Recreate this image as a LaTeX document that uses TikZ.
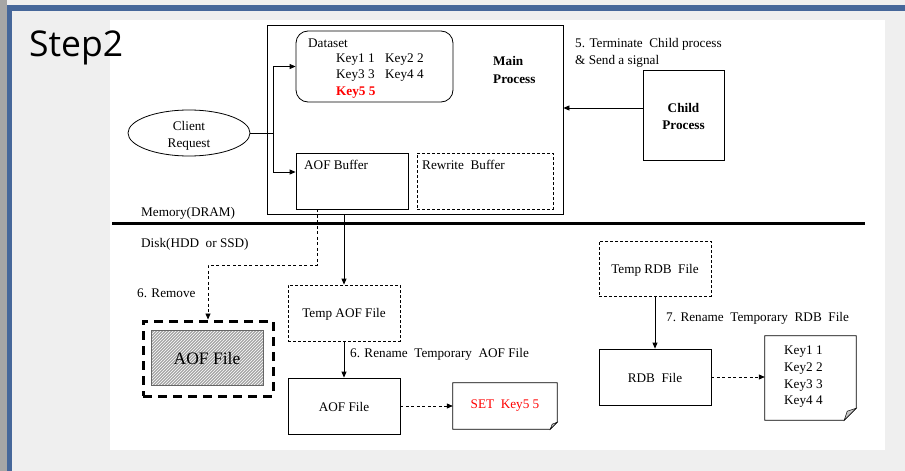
\documentclass[tikz,border=0pt]{standalone}
\usepackage{fontspec}
\setmainfont{Liberation Serif}
\newfontfamily\stepfont{Open Sans}
\usetikzlibrary{arrows.meta,patterns,shapes.geometric}
\definecolor{frameblue}{HTML}{46679A}
\definecolor{bgrey}{HTML}{EFEFEF}
\begin{document}
\begin{tikzpicture}[x=1pt,y=-1pt,
  font=\fontsize{13.2}{15}\selectfont,
  box/.style={draw=black,line width=0.8pt,inner sep=0pt},
  dbox/.style={draw=black,line width=0.8pt,inner sep=0pt,dash pattern=on 3pt off 2pt},
  arr/.style={line width=0.8pt,-{Triangle[length=6pt,width=5pt]}},
  darr/.style={line width=0.8pt,dash pattern=on 3pt off 2.5pt,-{Triangle[length=6pt,width=5pt]}},
  txt/.style={inner sep=0pt,anchor=base west},
  ctxt/.style={inner sep=0pt,anchor=base},
  fold/.style={fill=gray!45,draw=black,line width=0.5pt}]
\useasboundingbox (0,0) rectangle (905,471);
% background frame
\fill[bgrey] (0,0) rectangle (905,471);
\fill[gray!70] (0,0) rectangle (7,471);
\fill[white] (110,20) rectangle (885,450);
\fill[frameblue] (7,5) rectangle (905,11);
\fill[frameblue] (7,5) rectangle (12,471);
\node[txt] (steptitle) at (29,56) {\stepfont\fontsize{35.5}{40}\selectfont Step2};

% memory / disk separator
\draw[line width=3pt] (112,223) coordinate (sepL) -- (865,223) coordinate (sepR);
\node[txt] (memlbl) at (141,216) {Memory(DRAM)};
\node[txt] (disklbl) at (141,247) {Disk(HDD\ \ or SSD)};

% main process
\node[box,minimum width=296pt,minimum height=189pt] (main) at (415,119.5) {};
\node[box,rounded corners=12pt,minimum width=157pt,minimum height=71pt] (dataset) at (374.5,66.5) {};
\node[txt] (dstitle) at (308,47) {Dataset};
\node[txt] (k1) at (336,62) {Key1 1};
\node[txt] (k2) at (385,62) {Key2 2};
\node[txt] (k3) at (336,78) {Key3 3};
\node[txt] (k4) at (385,78) {Key4 4};
\node[txt,text=red] (k5) at (336,95) {\bfseries Key5\ 5};
\node[txt] (mainlbl1) at (493,65) {\bfseries Main};
\node[txt] (mainlbl2) at (493,83) {\bfseries Process};
\node[box,minimum width=112pt,minimum height=56pt] (aofbuf) at (352,181) {};
\node[txt] (aofbuftxt) at (304,169) {AOF Buffer};
\node[dbox,minimum width=136pt,minimum height=56pt] (rwbuf) at (485,181) {};
\node[txt] (rwbuftxt) at (422,169) {Rewrite\ \ Buffer};

% child process
\node[box,minimum width=81pt,minimum height=90pt] (child) at (683.5,115) {};
\node[ctxt] (childt1) at (683.5,112) {\bfseries Child};
\node[ctxt] (childt2) at (683.5,129) {\bfseries Process};
\node[txt] (term1) at (575,47) {5. Terminate\ \ Child process};
\node[txt] (term2) at (575,64) {\& Send a signal};
\draw[arr] ([yshift=7pt]child.west) -- ([yshift=7pt]child.west -| main.east);

% client request
\node[ellipse,draw=black,line width=0.8pt,minimum width=122pt,minimum height=46pt,inner sep=0pt] (client) at (189,133) {};
\node[ctxt] (clientt1) at (189,130) {Client};
\node[ctxt] (clientt2) at (189,147) {Request};
\coordinate (branch) at (273,133);
\draw[line width=0.8pt] (client.east) -- (branch);
\draw[arr] (branch) |- (dataset.west);
\draw[arr] (branch) |- ([yshift=9pt]aofbuf.west);

% AOF side
\node[dbox,minimum width=112pt,minimum height=56pt] (tempaof) at (344,313) {};
\node[ctxt] (tempaoft) at (344,317) {Temp AOF File};
\node[box,minimum width=112pt,minimum height=56pt] (aoffile) at (344,406) {};
\node[ctxt] (aoffilet) at (344,411) {AOF File};
\draw[arr] (main.south -| tempaof.north) -- (tempaof.north);
\draw[arr] (tempaof.south) -- (aoffile.north);
\node[txt] (renaof) at (350,357) {6. Rename\ \ Temporary\ \ AOF File};

% old AOF file (removed)
\node[draw=black,line width=3pt,dash pattern=on 9pt off 6pt,minimum width=130pt,minimum height=75pt,inner sep=0pt] (oldaof) at (208,358.5) {};
\node[draw=gray!80!black,line width=0.8pt,preaction={fill=gray!70},pattern=north east lines,pattern color=white,minimum width=112pt,minimum height=55pt,inner sep=0pt] (oldaofin) at (207,357.5) {};
\node[ctxt] (oldaoft) at (207,364) {\fontsize{17.5}{19}\selectfont AOF File};
\draw[darr] ([xshift=-35pt]aofbuf.south) -- ++(0,56) -| (oldaof.north);
\node[txt] (removelbl) at (137,297) {6. Remove};

% SET doc
\node[inner sep=0pt,minimum width=104pt,minimum height=46pt] (setdoc) at (505,406) {};
\draw[line width=0.8pt] (setdoc.north west) -- (setdoc.north east) -- ([yshift=7pt]setdoc.south east) -- ([xshift=-7pt]setdoc.south east) -- (setdoc.south west) -- cycle;
\draw[fold] ([yshift=7pt]setdoc.south east) -- ([xshift=-7pt]setdoc.south east) -- ([xshift=-5pt,yshift=5pt]setdoc.south east) -- cycle;
\node[ctxt,text=red] (setdoct) at (505,408) {SET\ \ Key5\ 5};
\draw[darr] (aoffile.east) -- (setdoc.west);

% RDB side
\node[dbox,minimum width=112pt,minimum height=55pt] (temprdb) at (655,268.5) {};
\node[ctxt] (temprdbt) at (655,273) {Temp RDB\ \ File};
\node[box,minimum width=112pt,minimum height=56pt] (rdbfile) at (655,377) {};
\node[ctxt] (rdbfilet) at (655,382) {RDB\ \ File};
\draw[arr] (temprdb.south) -- (rdbfile.north);
\node[txt] (renrdb) at (666,321) {7. Rename\ \ Temporary\ \ RDB\ \ File};
\node[inner sep=0pt,minimum width=91pt,minimum height=84pt] (keydoc) at (810.5,378) {};
\draw[line width=0.8pt] (keydoc.north west) -- (keydoc.north east) -- ([yshift=12pt]keydoc.south east) -- ([xshift=-12pt]keydoc.south east) -- (keydoc.south west) -- cycle;
\draw[fold] ([yshift=12pt]keydoc.south east) -- ([xshift=-12pt]keydoc.south east) -- ([xshift=-9pt,yshift=9pt]keydoc.south east) -- cycle;
\node[txt] (rk1) at (784,354) {Key1 1};
\node[txt] (rk2) at (784,371) {Key2 2};
\node[txt] (rk3) at (784,388) {Key3 3};
\node[txt] (rk4) at (784,404) {Key4 4};
\draw[darr] (rdbfile.east) -- (rdbfile.east -| keydoc.west);
\end{tikzpicture}
\end{document}
